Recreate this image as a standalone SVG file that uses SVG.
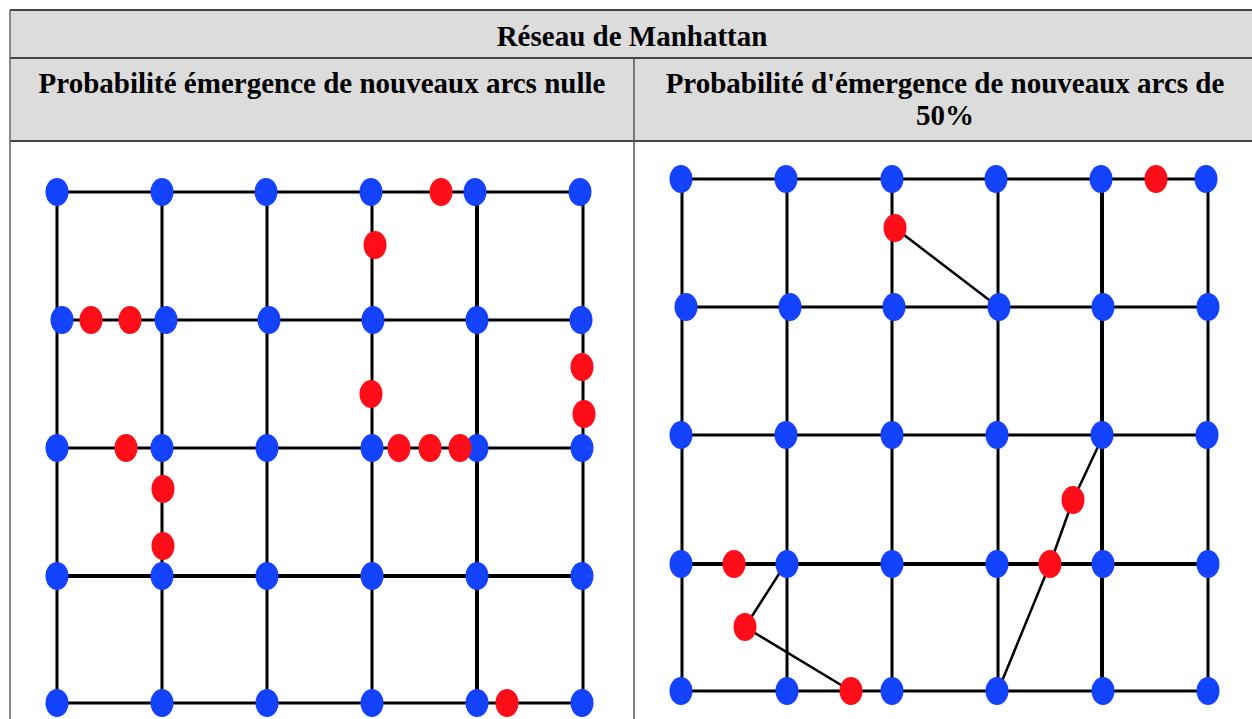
<svg xmlns="http://www.w3.org/2000/svg" width="1252" height="719" viewBox="0 0 1252 719">
<style>
.hdr{fill:#dcdcdc}
.tb{stroke:#444;stroke-width:2;fill:none}
.t{font-family:"Liberation Serif","Times New Roman",serif;font-weight:bold;font-size:29px;fill:#000;text-anchor:middle}
.e{stroke:#000;stroke-width:3;fill:none;stroke-linecap:butt}
.ek{stroke:#000;stroke-width:4;fill:none}
.n{stroke:#000;stroke-width:2.5;fill:none;stroke-linejoin:round}
.b{fill:#1443ff}
.r{fill:#ff0d18}
</style>
<rect width="1252" height="719" fill="#fff"/>
<g id="table">
<rect class="hdr" x="10" y="10" width="1242" height="131"/>
<line class="tb" x1="10" y1="10" x2="1252" y2="10"/>
<line class="tb" x1="10" y1="58" x2="1252" y2="58"/>
<line class="tb" x1="10" y1="141" x2="1252" y2="141"/>
<line class="tb" x1="10" y1="10" x2="10" y2="719" style="stroke:#666;stroke-width:1.5"/>
<line class="tb" x1="634" y1="58" x2="634" y2="719" style="stroke:#555;stroke-width:1.5"/>
<text class="t" x="632" y="46">Réseau de Manhattan</text>
<text class="t" x="322" y="93">Probabilité émergence de nouveaux arcs nulle</text>
<text class="t" x="945" y="93">Probabilité d'émergence de nouveaux arcs de</text>
<text class="t" x="945" y="125">50%</text>
</g>
<g id="connectors">
<line class="e" x1="57" y1="192" x2="580" y2="192"/>
<line class="e" x1="62" y1="320" x2="581" y2="320"/>
<line class="e" x1="57" y1="448" x2="582" y2="448"/>
<line class="ek" x1="57" y1="576" x2="582" y2="576"/>
<line class="e" x1="57" y1="703" x2="582" y2="703"/>
<line class="e" x1="57" y1="192" x2="57" y2="703"/>
<line class="e" x1="162" y1="192" x2="162" y2="703"/>
<line class="e" x1="267" y1="192" x2="267" y2="703"/>
<line class="e" x1="372" y1="192" x2="372" y2="703"/>
<line class="ek" x1="477" y1="192" x2="477" y2="703"/>
<line class="e" x1="583" y1="192" x2="583" y2="703"/>
<line class="e" x1="681" y1="179" x2="1206" y2="179"/>
<line class="e" x1="686" y1="307" x2="1208" y2="307"/>
<line class="e" x1="681" y1="435" x2="1207" y2="435"/>
<line class="ek" x1="681" y1="564" x2="1208" y2="564"/>
<line class="e" x1="681" y1="691" x2="1208" y2="691"/>
<line class="e" x1="682" y1="179" x2="682" y2="691"/>
<line class="e" x1="787" y1="179" x2="787" y2="691"/>
<line class="e" x1="892" y1="179" x2="892" y2="691"/>
<line class="e" x1="998" y1="179" x2="998" y2="691"/>
<line class="ek" x1="1102" y1="179" x2="1102" y2="691"/>
<line class="e" x1="1208" y1="179" x2="1208" y2="691"/>
<polyline class="n" points="895,228 997,306"/>
<polyline class="n" points="786,563 745,627 851,691"/>
<polyline class="n" points="1103,436 1073,500 1050,564 998,691"/>
</g>
<g id="left-nodes">
<g id="L11"><ellipse class="b" cx="57" cy="192" rx="11.5" ry="14"/></g>
<g id="L12"><ellipse class="b" cx="162" cy="192" rx="11.5" ry="14"/></g>
<g id="L13"><ellipse class="b" cx="266" cy="192" rx="11.5" ry="14"/></g>
<g id="L14"><ellipse class="b" cx="371" cy="192" rx="11.5" ry="14"/></g>
<g id="L15"><ellipse class="b" cx="475" cy="192" rx="11.5" ry="14"/></g>
<g id="L16"><ellipse class="b" cx="580" cy="192" rx="11.5" ry="14"/></g>
<g id="L21"><ellipse class="b" cx="62" cy="320" rx="11.5" ry="14"/></g>
<g id="L22"><ellipse class="b" cx="166" cy="320" rx="11.5" ry="14"/></g>
<g id="L23"><ellipse class="b" cx="269" cy="320" rx="11.5" ry="14"/></g>
<g id="L24"><ellipse class="b" cx="373" cy="320" rx="11.5" ry="14"/></g>
<g id="L25"><ellipse class="b" cx="477" cy="320" rx="11.5" ry="14"/></g>
<g id="L26"><ellipse class="b" cx="581" cy="320" rx="11.5" ry="14"/></g>
<g id="L31"><ellipse class="b" cx="57" cy="448" rx="11.5" ry="14"/></g>
<g id="L32"><ellipse class="b" cx="162" cy="448" rx="11.5" ry="14"/></g>
<g id="L33"><ellipse class="b" cx="267" cy="448" rx="11.5" ry="14"/></g>
<g id="L34"><ellipse class="b" cx="372" cy="448" rx="11.5" ry="14"/></g>
<g id="L35"><ellipse class="b" cx="477" cy="448" rx="11.5" ry="14"/></g>
<g id="L36"><ellipse class="b" cx="582" cy="448" rx="11.5" ry="14"/></g>
<g id="L41"><ellipse class="b" cx="57" cy="576" rx="11.5" ry="14"/></g>
<g id="L42"><ellipse class="b" cx="162" cy="576" rx="11.5" ry="14"/></g>
<g id="L43"><ellipse class="b" cx="267" cy="576" rx="11.5" ry="14"/></g>
<g id="L44"><ellipse class="b" cx="372" cy="576" rx="11.5" ry="14"/></g>
<g id="L45"><ellipse class="b" cx="477" cy="576" rx="11.5" ry="14"/></g>
<g id="L46"><ellipse class="b" cx="582" cy="576" rx="11.5" ry="14"/></g>
<g id="L51"><ellipse class="b" cx="57" cy="703" rx="11.5" ry="14"/></g>
<g id="L52"><ellipse class="b" cx="162" cy="703" rx="11.5" ry="14"/></g>
<g id="L53"><ellipse class="b" cx="267" cy="703" rx="11.5" ry="14"/></g>
<g id="L54"><ellipse class="b" cx="372" cy="703" rx="11.5" ry="14"/></g>
<g id="L55"><ellipse class="b" cx="477" cy="703" rx="11.5" ry="14"/></g>
<g id="L56"><ellipse class="b" cx="582" cy="703" rx="11.5" ry="14"/></g>
<g id="LR1"><ellipse class="r" cx="441" cy="192" rx="11.5" ry="14"/></g>
<g id="LR2"><ellipse class="r" cx="375" cy="245" rx="11.5" ry="14"/></g>
<g id="LR3"><ellipse class="r" cx="91" cy="320" rx="11.5" ry="14"/></g>
<g id="LR4"><ellipse class="r" cx="130" cy="320" rx="11.5" ry="14"/></g>
<g id="LR5"><ellipse class="r" cx="582" cy="367" rx="11.5" ry="14"/></g>
<g id="LR6"><ellipse class="r" cx="584" cy="414" rx="11.5" ry="14"/></g>
<g id="LR7"><ellipse class="r" cx="371" cy="394" rx="11.5" ry="14"/></g>
<g id="LR8"><ellipse class="r" cx="126" cy="448" rx="11.5" ry="14"/></g>
<g id="LR9"><ellipse class="r" cx="399" cy="448" rx="11.5" ry="14"/></g>
<g id="LR10"><ellipse class="r" cx="430" cy="448" rx="11.5" ry="14"/></g>
<g id="LR11"><ellipse class="r" cx="460" cy="448" rx="11.5" ry="14"/></g>
<g id="LR12"><ellipse class="r" cx="163" cy="489" rx="11.5" ry="14"/></g>
<g id="LR13"><ellipse class="r" cx="163" cy="546" rx="11.5" ry="14"/></g>
<g id="LR14"><ellipse class="r" cx="507" cy="703" rx="11.5" ry="14"/></g>
</g>
<g id="right-nodes">
<g id="R11"><ellipse class="b" cx="681" cy="179" rx="11.5" ry="14"/></g>
<g id="R12"><ellipse class="b" cx="786" cy="179" rx="11.5" ry="14"/></g>
<g id="R13"><ellipse class="b" cx="892" cy="179" rx="11.5" ry="14"/></g>
<g id="R14"><ellipse class="b" cx="996" cy="179" rx="11.5" ry="14"/></g>
<g id="R15"><ellipse class="b" cx="1101" cy="179" rx="11.5" ry="14"/></g>
<g id="R16"><ellipse class="b" cx="1206" cy="179" rx="11.5" ry="14"/></g>
<g id="R21"><ellipse class="b" cx="686" cy="307" rx="11.5" ry="14"/></g>
<g id="R22"><ellipse class="b" cx="790" cy="307" rx="11.5" ry="14"/></g>
<g id="R23"><ellipse class="b" cx="894" cy="307" rx="11.5" ry="14"/></g>
<g id="R24"><ellipse class="b" cx="999" cy="307" rx="11.5" ry="14"/></g>
<g id="R25"><ellipse class="b" cx="1103" cy="307" rx="11.5" ry="14"/></g>
<g id="R26"><ellipse class="b" cx="1208" cy="307" rx="11.5" ry="14"/></g>
<g id="R31"><ellipse class="b" cx="681" cy="435" rx="11.5" ry="14"/></g>
<g id="R32"><ellipse class="b" cx="786" cy="435" rx="11.5" ry="14"/></g>
<g id="R33"><ellipse class="b" cx="892" cy="435" rx="11.5" ry="14"/></g>
<g id="R34"><ellipse class="b" cx="997" cy="435" rx="11.5" ry="14"/></g>
<g id="R35"><ellipse class="b" cx="1102" cy="435" rx="11.5" ry="14"/></g>
<g id="R36"><ellipse class="b" cx="1207" cy="435" rx="11.5" ry="14"/></g>
<g id="R41"><ellipse class="b" cx="681" cy="564" rx="11.5" ry="14"/></g>
<g id="R42"><ellipse class="b" cx="787" cy="564" rx="11.5" ry="14"/></g>
<g id="R43"><ellipse class="b" cx="892" cy="564" rx="11.5" ry="14"/></g>
<g id="R44"><ellipse class="b" cx="997" cy="564" rx="11.5" ry="14"/></g>
<g id="R45"><ellipse class="b" cx="1103" cy="564" rx="11.5" ry="14"/></g>
<g id="R46"><ellipse class="b" cx="1208" cy="564" rx="11.5" ry="14"/></g>
<g id="R51"><ellipse class="b" cx="681" cy="691" rx="11.5" ry="14"/></g>
<g id="R52"><ellipse class="b" cx="787" cy="691" rx="11.5" ry="14"/></g>
<g id="R53"><ellipse class="b" cx="892" cy="691" rx="11.5" ry="14"/></g>
<g id="R54"><ellipse class="b" cx="997" cy="691" rx="11.5" ry="14"/></g>
<g id="R55"><ellipse class="b" cx="1103" cy="691" rx="11.5" ry="14"/></g>
<g id="R56"><ellipse class="b" cx="1208" cy="691" rx="11.5" ry="14"/></g>
<g id="RR1"><ellipse class="r" cx="1156" cy="179" rx="11.5" ry="14"/></g>
<g id="RR2"><ellipse class="r" cx="895" cy="228" rx="11.5" ry="14"/></g>
<g id="RR3"><ellipse class="r" cx="734" cy="564" rx="11.5" ry="14"/></g>
<g id="RR4"><ellipse class="r" cx="745" cy="627" rx="11.5" ry="14"/></g>
<g id="RR5"><ellipse class="r" cx="851" cy="691" rx="11.5" ry="14"/></g>
<g id="RR6"><ellipse class="r" cx="1073" cy="500" rx="11.5" ry="14"/></g>
<g id="RR7"><ellipse class="r" cx="1050" cy="564" rx="11.5" ry="14"/></g>
</g>
</svg>
